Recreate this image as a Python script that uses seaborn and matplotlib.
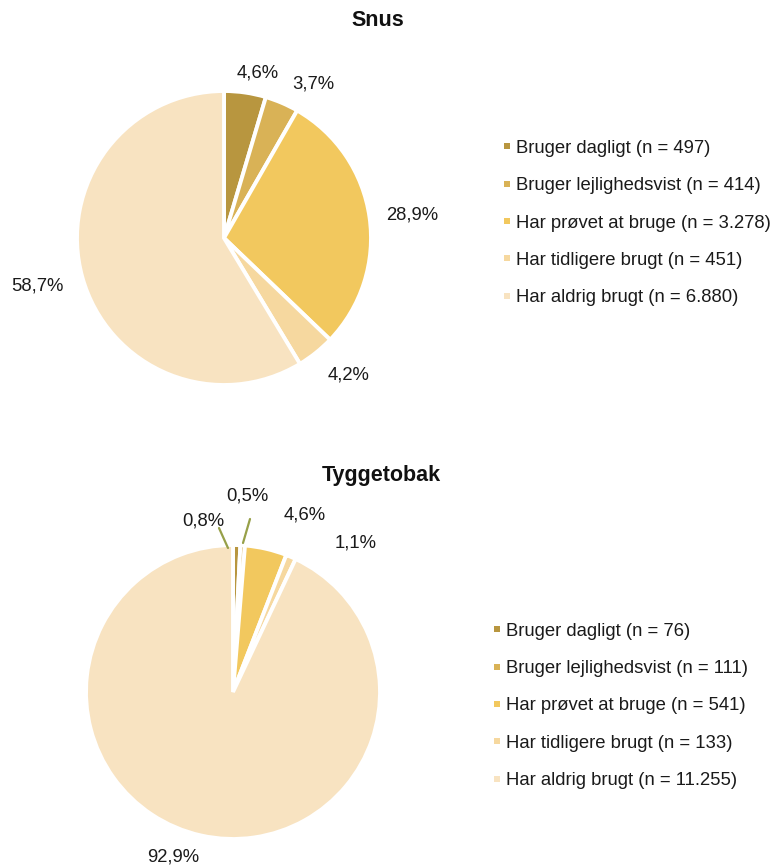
import matplotlib

matplotlib.use("Agg")
import matplotlib.pyplot as plt
from matplotlib.lines import Line2D
import seaborn as sns


CATEGORIES = [
    "Bruger dagligt",
    "Bruger lejlighedsvist",
    "Har prøvet at bruge",
    "Har tidligere brugt",
    "Har aldrig brugt",
]

SNUS_PCT = [4.6, 3.7, 28.9, 4.2, 58.7]
SNUS_N = ["497", "414", "3.278", "451", "6.880"]

TYGGE_PCT = [0.8, 0.5, 4.6, 1.1, 92.9]
TYGGE_N = ["76", "111", "541", "133", "11.255"]

COLORS = ["#B8963F", "#D9B256", "#F2C85E", "#F6D89F", "#F8E3C1"]
LEADER_COLOR = "#97A049"
TEXT_COLOR = "#1A1A1A"

W, H = 773, 866
R_PX = 147
FS = 13.3


def pie_axes(fig, cx, cy):
    ax = fig.add_axes([(cx - R_PX) / W, (H - cy - R_PX) / H, 2 * R_PX / W, 2 * R_PX / H])
    ax.set_xlim(-1, 1)
    ax.set_ylim(-1, 1)
    ax.axis("off")
    return ax


def draw_pie(ax, values):
    ax.pie(
        values,
        colors=COLORS,
        startangle=90,
        counterclock=False,
        radius=1.0,
        wedgeprops=dict(edgecolor="white", linewidth=2.8),
        frame=False,
    )
    ax.set_xlim(-1, 1)
    ax.set_ylim(-1, 1)
    ax.set_aspect("auto")


def fmt(v):
    return f"{v:.1f}".replace(".", ",") + "%"


def add_labels(ax, values, positions, cx, cy):
    for v, (px, py) in zip(values, positions):
        ax.text((px - cx) / R_PX, (cy - py) / R_PX, fmt(v), ha="center", va="center",
                fontsize=FS, color=TEXT_COLOR, clip_on=False)


def add_legend(fig, counts, x, y):
    handles = [
        Line2D([], [], marker="s", linestyle="", markersize=4.0, color=c, markeredgewidth=0)
        for c in COLORS
    ]
    labels = [f"{cat} (n = {n})" for cat, n in zip(CATEGORIES, counts)]
    fig.legend(
        handles,
        labels,
        loc="center left",
        bbox_to_anchor=(x / W, 1 - y / H),
        frameon=False,
        fontsize=FS,
        handlelength=0.35,
        handletextpad=0.3,
        labelspacing=1.1,
        borderpad=0,
        borderaxespad=0,
        labelcolor=TEXT_COLOR,
    )


def main():
    sns.set_theme(style="white")
    plt.rcParams["font.family"] = ["Liberation Sans", "DejaVu Sans"]

    fig = plt.figure(figsize=(W / 100, H / 100), dpi=100, facecolor="white")

    # Snus
    ax1 = pie_axes(fig, 224, 238)
    draw_pie(ax1, SNUS_PCT)
    add_labels(ax1, SNUS_PCT, [(258, 73), (313, 84), (412, 215), (349, 375), (37, 286)], 224, 238)
    fig.text(378 / W, 1 - 20 / H, "Snus", ha="center", va="center", fontsize=15.5,
             fontweight="bold", color="#111111")
    add_legend(fig, SNUS_N, 504, 223)

    # Tyggetobak
    ax2 = pie_axes(fig, 233, 692)
    draw_pie(ax2, TYGGE_PCT)
    add_labels(ax2, TYGGE_PCT, [(203, 521), (247, 496), (305, 515), (356, 543), (173, 857)], 233, 692)
    leaders = [((219, 528), (228, 548)), ((250, 519), (243, 543))]
    for (x0, y0), (x1, y1) in leaders:
        ax2.plot([(x0 - 233) / R_PX, (x1 - 233) / R_PX], [(692 - y0) / R_PX, (692 - y1) / R_PX],
                 color=LEADER_COLOR, lw=1.6, clip_on=False)
    fig.text(381 / W, 1 - 475 / H, "Tyggetobak", ha="center", va="center", fontsize=15.5,
             fontweight="bold", color="#111111")
    add_legend(fig, TYGGE_N, 494, 706)

    fig.savefig("out.png", dpi=100, facecolor="white")
    plt.close(fig)


if __name__ == "__main__":
    main()
